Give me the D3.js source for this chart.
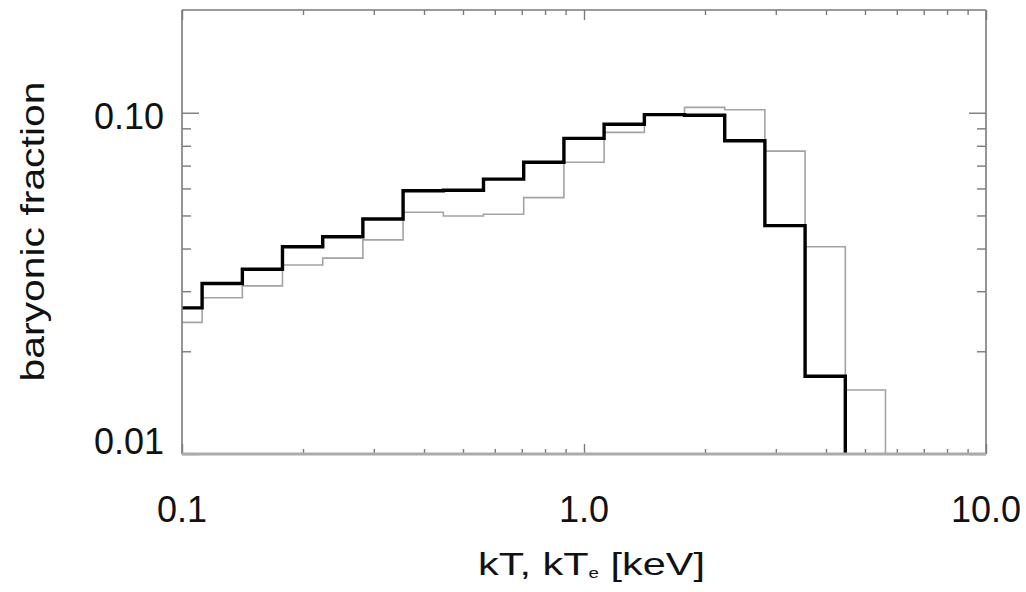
<!DOCTYPE html>
<html>
<head>
<meta charset="utf-8">
<script src="https://cdn.jsdelivr.net/npm/d3@7"></script>
<style>
  html, body { margin: 0; padding: 0; background: #fff; }
  svg { display: block; }
  text { font-family: "Liberation Sans", Arial, Helvetica, sans-serif; fill: #111; }
</style>
</head>
<body>
<svg id="chart" width="1026" height="592"></svg>
<script>
// Temperature bins, 0.1 dex wide (edges in keV)
const binEdges = [0.0891, 0.1122, 0.1413, 0.1778, 0.2239, 0.2818, 0.3548, 0.4467, 0.5623,
                  0.7079, 0.8913, 1.122, 1.413, 1.778, 2.239, 2.818, 3.548, 4.467, 5.623];

// Baryonic fraction per bin, gas temperature kT (thick line)
const fractionKT = [0.0268, 0.0316, 0.0348, 0.0405, 0.0433, 0.0488, 0.0591, 0.0593, 0.0639,
                    0.0716, 0.0841, 0.0925, 0.0987, 0.0983, 0.0828, 0.0467, 0.0169];

// Baryonic fraction per bin, electron temperature kTe (thin line)
const fractionKTe = [0.0243, 0.0287, 0.0311, 0.0358, 0.0375, 0.0424, 0.0511, 0.0498, 0.0504,
                     0.0564, 0.0716, 0.0876, 0.0984, 0.1037, 0.1020, 0.0772, 0.0405, 0.0154];

// Axis ticks and labels
const xMajorTicks = [0.1, 1, 10];
const xTickLabels = ["0.1", "1.0", "10.0"];
const xMinorTicks = [0.2, 0.3, 0.4, 0.5, 0.6, 0.7, 0.8, 0.9, 2, 3, 4, 5, 6, 7, 8, 9];
const yMajorTicks = [0.1, 0.01];
const yTickLabels = ["0.10", "0.01"];
const yMinorTicks = [0.02, 0.03, 0.04, 0.05, 0.06, 0.07, 0.08, 0.09];

const plot = { left: 182, right: 986, top: 10, bottom: 454 };

const x = d3.scaleLog().domain([0.1, 10]).range([plot.left, plot.right]);
const y = d3.scaleLog().domain([0.01, 0.2]).range([plot.bottom, plot.top]);

const svg = d3.select("#chart");

svg.append("defs").append("clipPath").attr("id", "plot-clip")
  .append("rect")
  .attr("x", plot.left).attr("y", plot.top)
  .attr("width", plot.right - plot.left).attr("height", plot.bottom - plot.top);

// Step outline of a histogram; the last bin drops down below the axis
function stepPoints(values) {
  const pts = [];
  values.forEach((v, i) => {
    pts.push([binEdges[i], v]);
    pts.push([binEdges[i + 1], v]);
  });
  pts.push([binEdges[values.length], 0.005]);
  return pts;
}

const line = d3.line().x(d => x(d[0])).y(d => y(d[1]));

const hist = svg.append("g").attr("clip-path", "url(#plot-clip)");

hist.append("path")
  .attr("d", line(stepPoints(fractionKTe)))
  .attr("fill", "none")
  .attr("stroke", "#a3a3a3")
  .attr("stroke-width", 1.6)
  .attr("stroke-linejoin", "miter");

hist.append("path")
  .attr("d", line(stepPoints(fractionKT)))
  .attr("fill", "none")
  .attr("stroke", "#000")
  .attr("stroke-width", 3.4)
  .attr("stroke-linejoin", "miter");

// Frame
const axisColor = "#7a7a7a";
function styleAxis(g) {
  g.select(".domain").remove();
  g.selectAll(".tick line").attr("stroke", axisColor).attr("stroke-width", 1.4);
  g.selectAll(".tick text").remove();
}

// Bottom and top axes (ticks point inward)
svg.append("g").attr("transform", `translate(0,${plot.bottom})`)
  .call(d3.axisBottom(x).tickValues(xMinorTicks).tickSize(-5).tickFormat(""))
  .call(styleAxis);
svg.append("g").attr("transform", `translate(0,${plot.bottom})`)
  .call(d3.axisBottom(x).tickValues(xMajorTicks).tickSize(-10).tickFormat(""))
  .call(styleAxis);
svg.append("g").attr("transform", `translate(0,${plot.top})`)
  .call(d3.axisTop(x).tickValues(xMinorTicks).tickSize(-5).tickFormat(""))
  .call(styleAxis);
svg.append("g").attr("transform", `translate(0,${plot.top})`)
  .call(d3.axisTop(x).tickValues(xMajorTicks).tickSize(-10).tickFormat(""))
  .call(styleAxis);

// Left and right axes
svg.append("g").attr("transform", `translate(${plot.left},0)`)
  .call(d3.axisLeft(y).tickValues(yMinorTicks).tickSize(-9).tickFormat(""))
  .call(styleAxis);
svg.append("g").attr("transform", `translate(${plot.left},0)`)
  .call(d3.axisLeft(y).tickValues(yMajorTicks).tickSize(-17).tickFormat(""))
  .call(styleAxis);
svg.append("g").attr("transform", `translate(${plot.right},0)`)
  .call(d3.axisRight(y).tickValues(yMinorTicks).tickSize(-9).tickFormat(""))
  .call(styleAxis);
svg.append("g").attr("transform", `translate(${plot.right},0)`)
  .call(d3.axisRight(y).tickValues(yMajorTicks).tickSize(-17).tickFormat(""))
  .call(styleAxis);

// Box lines
const frame = svg.append("g").attr("fill", "none");
frame.append("line").attr("x1", plot.left).attr("x2", plot.right)
  .attr("y1", plot.top).attr("y2", plot.top)
  .attr("stroke", axisColor).attr("stroke-width", 1.6);
frame.append("line").attr("x1", plot.left).attr("x2", plot.left)
  .attr("y1", plot.top).attr("y2", plot.bottom)
  .attr("stroke", axisColor).attr("stroke-width", 1.6);
frame.append("line").attr("x1", plot.right).attr("x2", plot.right)
  .attr("y1", plot.top).attr("y2", plot.bottom)
  .attr("stroke", axisColor).attr("stroke-width", 1.6);
frame.append("line").attr("x1", plot.left).attr("x2", plot.right)
  .attr("y1", plot.bottom).attr("y2", plot.bottom)
  .attr("stroke", "#ababab").attr("stroke-width", 3);

// Tick labels
svg.append("g").selectAll("text")
  .data(xMajorTicks)
  .join("text")
  .attr("x", d => x(d))
  .attr("y", 521.5)
  .attr("text-anchor", "middle")
  .attr("font-size", 36)
  .text((d, i) => xTickLabels[i]);

svg.append("g").selectAll("text")
  .data(yMajorTicks)
  .join("text")
  .attr("x", 164)
  .attr("y", d => Math.min(y(d) + 16, plot.bottom))
  .attr("text-anchor", "end")
  .attr("font-size", 36)
  .text((d, i) => yTickLabels[i]);

// Axis titles, widened to the plot's lettering
function fitWidth(sel, target, baseTransform) {
  const w = sel.node().getComputedTextLength();
  sel.attr("transform", `${baseTransform} scale(${target / w},1)`);
}

const yTitle = svg.append("text")
  .attr("text-anchor", "middle")
  .attr("font-size", 34)
  .text("baryonic fraction");
fitWidth(yTitle, 300, "translate(44,231.5) rotate(-90)");

const xTitle = svg.append("text")
  .attr("text-anchor", "middle")
  .attr("font-size", 31);
xTitle.append("tspan").text("kT, kT");
xTitle.append("tspan").attr("font-size", 14).attr("dy", 3).text("e");
xTitle.append("tspan").attr("dy", -3).text(" [keV]");
fitWidth(xTitle, 227, "translate(591.5,575)");
</script>
</body>
</html>
